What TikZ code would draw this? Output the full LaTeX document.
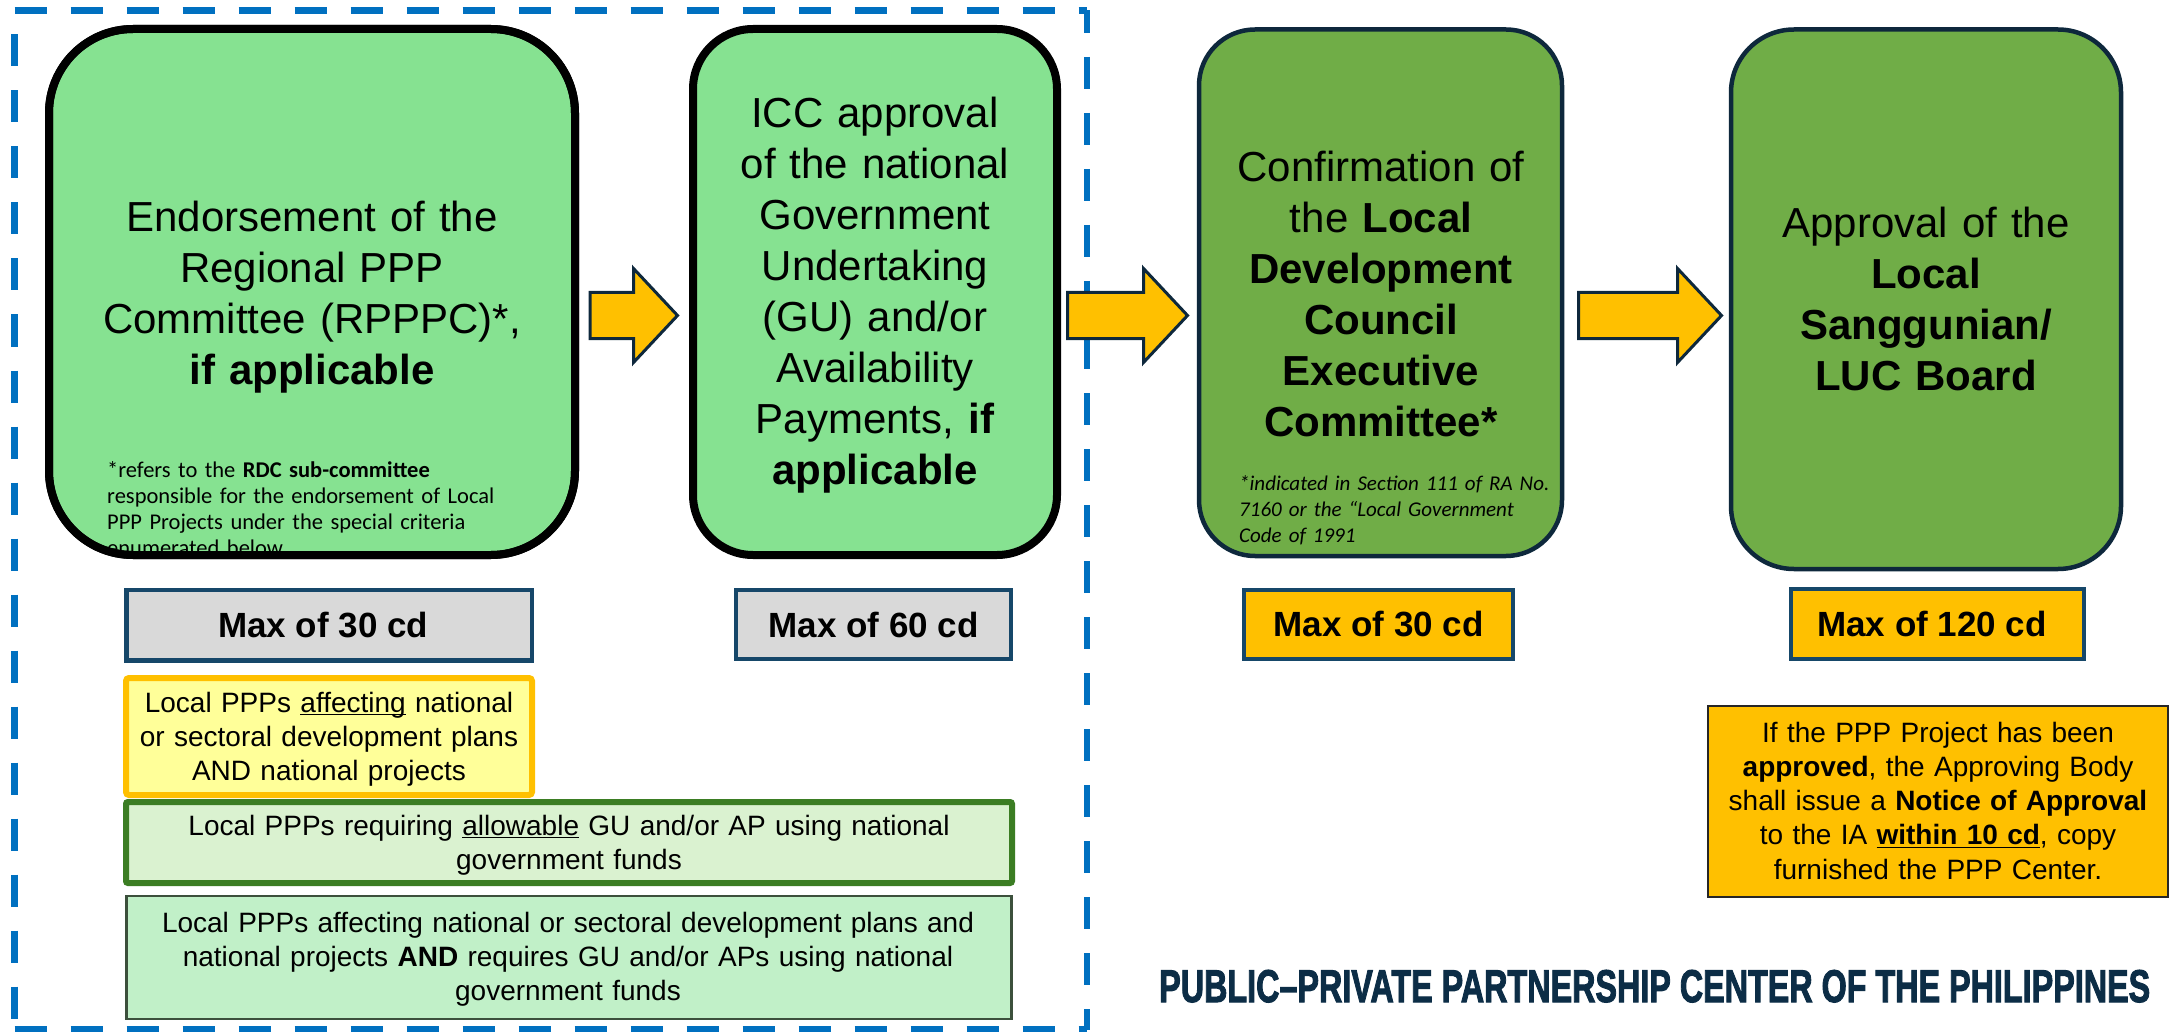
\documentclass[tikz,border=0pt]{standalone}
\usepackage{fontspec}
\usepackage{graphicx}
\setmainfont{Liberation Sans}
\newfontfamily\notefont{Carlito}
\newfontfamily\footfont[BoldFeatures={FakeBold=2.5}]{Liberation Sans}
\usetikzlibrary{calc}
\definecolor{lgreen}{RGB}{134,226,145}
\definecolor{dgreen}{RGB}{112,173,71}
\definecolor{amber}{RGB}{255,192,0}
\definecolor{navy}{RGB}{14,40,60}
\definecolor{mborder}{RGB}{22,71,105}
\definecolor{greyfill}{RGB}{217,217,217}
\definecolor{paleyellow}{RGB}{255,255,153}
\definecolor{palegreen}{RGB}{218,242,208}
\definecolor{gborder}{RGB}{59,125,35}
\definecolor{mintfill}{RGB}{193,240,200}
\definecolor{mintborder}{RGB}{60,80,60}
\definecolor{dashblue}{RGB}{0,112,192}
\definecolor{footnavy}{RGB}{12,45,70}
\newsavebox\undlbox
\newcommand\undl[1]{\sbox\undlbox{#1}\rlap{\rule[-3pt]{\wd\undlbox}{1.4pt}}\usebox\undlbox}
\newcommand\blockarrow[2]{\draw[barrow] ($(#1)+(0,-23)$) -- ($(#2)+(-44,-23)$) -- ($(#2)+(-44,-47)$) -- (#2) -- ($(#2)+(-44,47)$) -- ($(#2)+(-44,23)$) -- ($(#1)+(0,23)$) -- cycle;}
\begin{document}
\begin{tikzpicture}[x=1pt,y=-1pt,
  frame/.style={draw=dashblue, line width=6.5pt, dash pattern=on 32pt off 24pt},
  bigbox/.style={draw, rectangle, inner sep=0pt, outer sep=0pt, line width=8pt, fill=lgreen},
  darkbox/.style={draw=navy, rectangle, inner sep=0pt, outer sep=0pt, line width=4.5pt, fill=dgreen},
  bigtext/.style={font=\fontsize{42}{51}\selectfont, text width=420pt, align=center, inner sep=0pt, anchor=base},
  notetext/.style={font=\notefont\fontsize{22.5}{26}\selectfont, text width=450pt, align=left, inner sep=0pt, anchor=base west},
  barrow/.style={fill=amber, draw=navy, line width=3pt, line join=miter},
  mbox/.style={draw=mborder, rectangle, line width=4.5pt, inner sep=0pt, outer sep=0pt, font=\bfseries\fontsize{35}{42}\selectfont},
  smallbox/.style={rectangle, inner sep=0pt, outer sep=0pt},
  smalltext/.style={font=\fontsize{28}{34.3}\selectfont, text width=900pt, align=center, inner sep=0pt, anchor=base}]
\useasboundingbox (0,0) rectangle (2182,1032);
\fill[white] (0,0) rectangle (2182,1032);

% dashed frame
\coordinate (fTL) at (14.5,10.5);
\coordinate (fTR) at (1087,10.5);
\coordinate (fBL) at (14.5,1029.5);
\coordinate (fBR) at (1087,1029.5);
\draw[frame] (fTL) -- (fTR);
\draw[frame] (fBL) -- (fBR);
\draw[frame, dash phase=32pt] (fTL) -- (fBL);
\draw[frame, dash phase=9.5pt] (fTR) -- (fBR);

% main boxes
\node[bigbox, rounded corners=84pt, minimum width=526pt, minimum height=526pt] (b1) at (312,292) {};
\node[bigbox, rounded corners=60pt, minimum width=364pt, minimum height=526pt] (b2) at (875,292) {};
\node[darkbox, rounded corners=56pt, minimum width=363pt, minimum height=526.5pt] (b3) at (1380.5,292.75) {};
\node[darkbox, rounded corners=63pt, minimum width=390pt, minimum height=539.5pt] (b4) at (1926,299.25) {};

\node[bigtext] (t1) at (312,232) {Endorsement of the\\Regional PPP\\Committee (RPPPC)*,\\\textbf{if applicable}};
\begin{scope}
  \clip[rounded corners=84pt] (b1.north west) rectangle (b1.south east);
  \node[notetext] (n1) at (107,477) {*refers to the \textbf{RDC sub-committee}\\responsible for the endorsement of Local\\PPP Projects under the special criteria\\enumerated below};
\end{scope}
\draw[line width=8pt, rounded corners=84pt] (b1.north west) rectangle (b1.south east);

\node[bigtext] (t2) at (875,128) {ICC approval\\of the national\\Government\\Undertaking\\(GU) and/or\\Availability\\Payments, \textbf{if}\\\textbf{applicable}};
\node[bigtext] (t3) at (1381,182) {Confirmation of\\the \textbf{Local}\\\textbf{Development}\\\textbf{Council}\\\textbf{Executive}\\\textbf{Committee*}};
\node[notetext, font=\notefont\itshape\fontsize{21}{26}\selectfont] (n3) at (1239,490) {*indicated in Section 111 of RA No.\\7160 or the “Local Government\\Code of 1991};
\node[bigtext] (t4) at (1926,238) {Approval of the\\\textbf{Local}\\\textbf{Sanggunian/}\\\textbf{LUC Board}};

% block arrows
\coordinate (a1t) at (590,315.5);
\coordinate (a1h) at (677.5,315.5);
\coordinate (a2t) at (1067.5,315.5);
\coordinate (a2h) at (1187.5,315.5);
\coordinate (a3t) at (1578.5,315.5);
\coordinate (a3h) at (1721.5,315.5);
\blockarrow{a1t}{a1h}
\blockarrow{a2t}{a2h}
\blockarrow{a3t}{a3h}

% duration boxes
\node[mbox, fill=greyfill, minimum width=405.5pt, minimum height=70.5pt] (m1) at (329.25,625.25) {Max of 30 cd\kern12pt};
\node[mbox, fill=greyfill, minimum width=275pt, minimum height=69pt] (m2) at (873.5,624.5) {Max of 60 cd};
\node[mbox, fill=amber, minimum width=269pt, minimum height=69pt] (m3) at (1378.5,624.5) {Max of 30 cd};
\node[mbox, fill=amber, minimum width=293pt, minimum height=70pt] (m4) at (1937.5,624) {Max of 120 cd\kern11pt};

% criteria boxes
\node[smallbox, draw=amber, line width=6pt, fill=paleyellow, rounded corners=3pt, minimum width=406pt, minimum height=117pt] (c1) at (329,736.5) {};
\node[smalltext] (tc1) at (329,712) {Local PPPs \undl{affecting} national\\or sectoral development plans\\AND national projects};
\node[smallbox, draw=gborder, line width=6pt, fill=palegreen, rounded corners=2pt, minimum width=886pt, minimum height=81pt] (c2) at (569,842.5) {};
\node[smalltext] (tc2) at (569,835) {Local PPPs requiring \undl{allowable} GU and/or AP using national\\government funds};
\node[smallbox, draw=mintborder, line width=2.5pt, fill=mintfill, minimum width=885pt, minimum height=123pt] (c3) at (569,957.5) {};
\node[smalltext] (tc3) at (568,932) {Local PPPs affecting national or sectoral development plans and\\national projects \textbf{AND} requires GU and/or APs using national\\government funds};

% notice box
\node[smallbox, draw=black!85, line width=2.5pt, fill=amber, minimum width=460pt, minimum height=191pt] (nb) at (1938,801.5) {};
\node[smalltext] (tnb) at (1938,742) {If the PPP Project has been\\\textbf{approved}, the Approving Body\\shall issue a \textbf{Notice of Approval}\\to the IA \undl{\textbf{within 10 cd}}, copy\\furnished the PPP Center.};

% footer
\node[anchor=base west, inner sep=0pt, text=footnavy] (foot) at (1159,1002) {\resizebox{991pt}{32pt}{\footfont\bfseries PUBLIC–PRIVATE PARTNERSHIP CENTER OF THE PHILIPPINES}};
\end{tikzpicture}
\end{document}
